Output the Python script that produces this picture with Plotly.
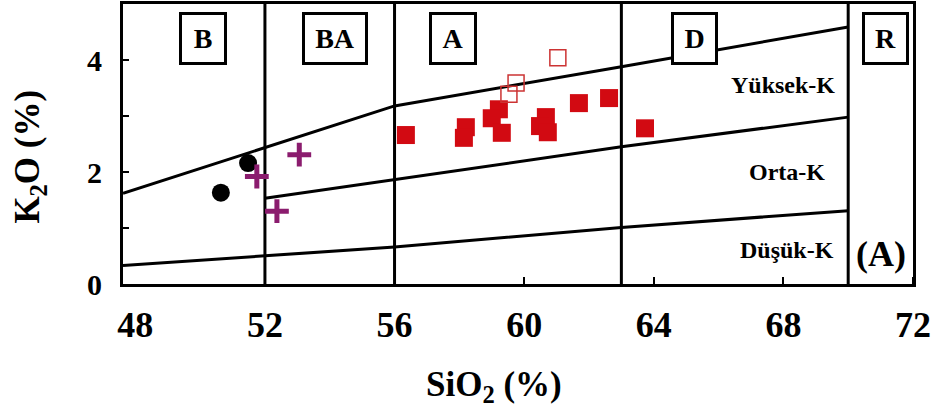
import plotly.graph_objects as go

# --- Samples: SiO2 (%) vs K2O (%) ---
circle_sio2 = [50.64, 51.48]
circle_k2o = [1.63, 2.16]

cross_sio2 = [51.75, 52.37, 53.06]
cross_k2o = [1.92, 1.30, 2.31]

filled_sio2 = [56.35, 58.20, 58.14, 59.22, 59.00, 59.31, 60.67, 60.49, 60.73, 61.69, 62.62, 63.73]
filled_k2o = [2.66, 2.80, 2.61, 3.12, 2.96, 2.70, 2.98, 2.82, 2.71, 3.23, 3.32, 2.78]

open_sio2 = [59.75, 59.53, 61.04]
open_k2o = [3.59, 3.39, 4.04]

# --- Series boundaries ---
sho_sio2 = [47.62, 52, 56, 63, 70]
sho_k2o = [1.62, 2.44, 3.18, 3.88, 4.59]

highk_sio2 = [52, 56, 63, 70]
highk_k2o = [1.53, 1.86, 2.45, 2.98]

lowk_sio2 = [47.62, 52, 56, 63, 70]
lowk_k2o = [0.33, 0.50, 0.66, 1.01, 1.31]

# Rock-type divisions (SiO2 %)
field_limits = [52, 56, 63, 70]
field_names = ["B", "BA", "A", "D", "R"]
series_names = ["Yüksek-K", "Orta-K", "Düşük-K"]
panel_tag = "(A)"

# --- Axes ---
x_ticklabels = [48, 52, 56, 60, 64, 68, 72]
x_tickmarks = [52, 56, 60, 64, 68, 72]
y_ticklabels = [0, 2, 4]
y_tickmarks = [1, 2, 3, 4]
x_range = [47.62, 72]
y_range = [0, 5]

FONT = "Liberation Serif"
LINE_W = 3

fig = go.Figure()

for xs, ys in [(sho_sio2, sho_k2o), (highk_sio2, highk_k2o), (lowk_sio2, lowk_k2o)]:
    fig.add_trace(go.Scatter(x=xs, y=ys, mode="lines",
                             line=dict(color="black", width=LINE_W),
                             hoverinfo="skip", showlegend=False))

fig.add_trace(go.Scatter(x=circle_sio2, y=circle_k2o, mode="markers",
                         marker=dict(symbol="circle", size=18, color="black",
                                     line=dict(width=0)),
                         showlegend=False))
fig.add_trace(go.Scatter(x=cross_sio2, y=cross_k2o, mode="markers",
                         marker=dict(symbol="cross-thin", size=17,
                                     line=dict(width=5, color="#8B1C6E")),
                         showlegend=False))
fig.add_trace(go.Scatter(x=filled_sio2, y=filled_k2o, mode="markers",
                         marker=dict(symbol="square", size=18, color="#D20A12",
                                     line=dict(width=0)),
                         showlegend=False))
fig.add_trace(go.Scatter(x=open_sio2, y=open_k2o, mode="markers",
                         marker=dict(symbol="square-open", size=16, color="#CC3333",
                                     line=dict(width=1.5, color="#CC3333")),
                         showlegend=False))

shapes = [dict(type="line", xref="x", yref="paper", x0=v, x1=v, y0=0, y1=1,
               line=dict(color="black", width=LINE_W), layer="below")
          for v in field_limits]

annotations = []

# Field boxes along the top
box_x = [50.09, 54.16, 57.80, 65.27, 71.14]
box_w = [42, 60, 42, 41, 41]
for name, bx, bw in zip(field_names, box_x, box_w):
    annotations.append(dict(
        x=bx, y=4.38, xref="x", yref="y", text=name, showarrow=False,
        xanchor="center", yanchor="middle",
        font=dict(family=FONT, size=28, color="black", weight="bold"),
        bgcolor="white", bordercolor="black", borderwidth=3, borderpad=0,
        width=bw, height=47,
    ))

# Series labels
series_pos = [(69.65, 3.55), (69.35, 2.00), (69.62, 0.61)]
for name, (sx, sy) in zip(series_names, series_pos):
    annotations.append(dict(
        x=sx, y=sy, xref="x", yref="y", text=name, showarrow=False,
        xanchor="right", yanchor="middle",
        font=dict(family=FONT, size=24, color="black", weight="bold"),
    ))

annotations.append(dict(
    x=71.01, y=0.54, xref="x", yref="y", text=panel_tag, showarrow=False,
    xanchor="center", yanchor="middle",
    font=dict(family=FONT, size=36, color="black", weight="bold"),
))

# Axis titles
annotations.append(dict(
    x=0.4696, y=-0.365, xref="paper", yref="paper", text="SiO<sub>2</sub> (%)",
    showarrow=False, xanchor="center", yanchor="middle",
    font=dict(family=FONT, size=35, color="black", weight="bold"),
))
annotations.append(dict(
    x=-0.1177, y=0.455, xref="paper", yref="paper", text="K<sub>2</sub>O (%)",
    showarrow=False, xanchor="center", yanchor="middle", textangle=-90,
    font=dict(family=FONT, size=35, color="black", weight="bold"),
))

axis_common = dict(
    showgrid=False, zeroline=False, showline=True, linecolor="black",
    linewidth=3, mirror=True, ticks="",
)

fig.update_layout(
    width=936, height=419,
    margin=dict(l=123, r=23, t=4, b=135, autoexpand=False),
    paper_bgcolor="white", plot_bgcolor="white",
    xaxis=dict(range=x_range, tickmode="array", tickvals=x_ticklabels,
               tickfont=dict(family=FONT, size=36, color="black", weight="bold"),
               ticklabelstandoff=7,
               minor=dict(tickmode="array", tickvals=x_tickmarks, ticks="inside",
                          ticklen=7, tickwidth=2, tickcolor="black", showgrid=False),
               **axis_common),
    yaxis=dict(range=y_range, tickmode="array", tickvals=y_ticklabels,
               tickfont=dict(family=FONT, size=30, color="black", weight="bold"),
               ticklabelstandoff=12,
               minor=dict(tickmode="array", tickvals=y_tickmarks, ticks="inside",
                          ticklen=6, tickwidth=2, tickcolor="black", showgrid=False),
               **axis_common),
    shapes=shapes,
    annotations=annotations,
    showlegend=False,
)

fig.write_html("out.html")
